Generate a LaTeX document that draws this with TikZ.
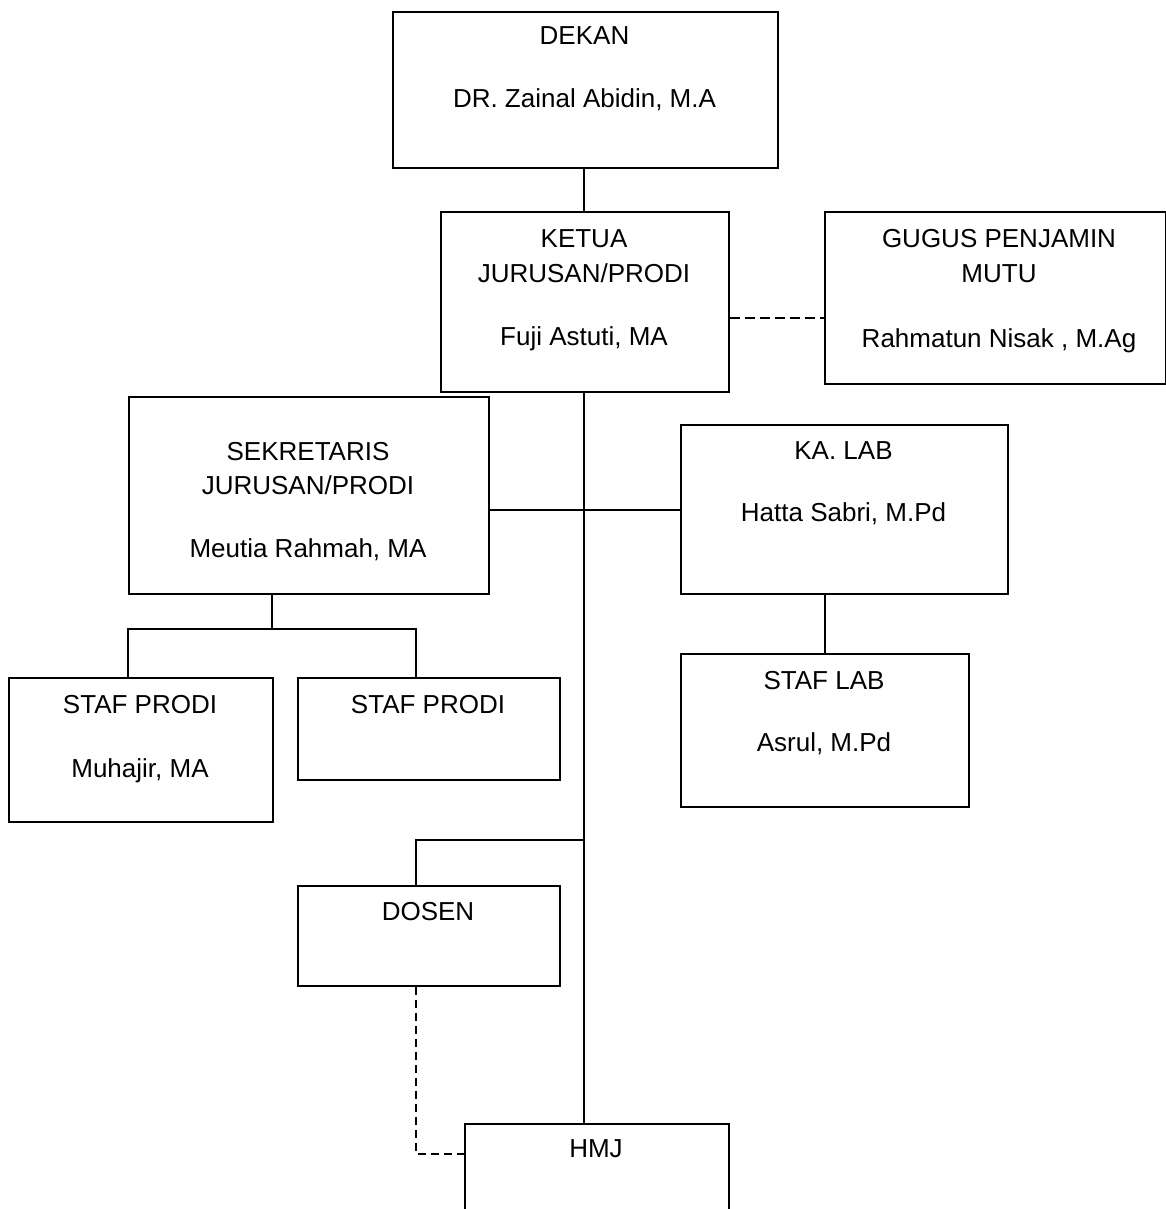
\documentclass[tikz,border=0pt]{standalone}
\usepackage{fontspec}
\setmainfont{Liberation Sans}
\begin{document}
\begin{tikzpicture}[x=1pt,y=-1pt,
  box/.style={draw,line width=1.8pt,rectangle,inner sep=0pt,anchor=north west},
  txt/.style={anchor=base,inner sep=0pt,font=\fontsize{26pt}{31pt}\selectfont},
  conn/.style={line width=1.8pt},
  dsh/.style={line width=1.8pt,dash pattern=on 10pt off 5pt}]
\clip (0,0) rectangle (1166,1209);
\fill[white] (0,0) rectangle (1166,1209);
% boxes
\node[box,minimum width=385pt,minimum height=156pt] (dekan) at (392,11) {};
\node[box,minimum width=288pt,minimum height=180pt] (ketua) at (440,211) {};
\node[box,minimum width=341pt,minimum height=172pt] (gugus) at (824,211) {};
\node[box,minimum width=360pt,minimum height=197pt] (sek) at (128,396) {};
\node[box,minimum width=327pt,minimum height=169pt] (kalab) at (680,424) {};
\node[box,minimum width=288pt,minimum height=153pt] (staflab) at (680,653) {};
\node[box,minimum width=264pt,minimum height=144pt] (staf1) at (8,677) {};
\node[box,minimum width=262pt,minimum height=102pt] (staf2) at (297,677) {};
\node[box,minimum width=262pt,minimum height=100pt] (dosen) at (297,885) {};
\node[box,minimum width=264pt,minimum height=140pt] (hmj) at (464,1123) {};
% texts
\node[txt] (tdek1) at (584.5,45) {DEKAN};
\node[txt] (tdek2) at (584.5,108) {DR. Zainal Abidin, M.A};
\node[txt] (tket1) at (584,247) {KETUA};
\node[txt] (tket2) at (584,282) {JURUSAN/PRODI};
\node[txt] (tket3) at (584,345) {Fuji Astuti, MA};
\node[txt] (tgug1) at (999,247) {GUGUS PENJAMIN};
\node[txt] (tgug2) at (999,282) {MUTU};
\node[txt] (tgug3) at (999,347) {Rahmatun Nisak , M.Ag};
\node[txt] (tsek1) at (308,460) {SEKRETARIS};
\node[txt] (tsek2) at (308,494) {JURUSAN/PRODI};
\node[txt] (tsek3) at (308,557) {Meutia Rahmah, MA};
\node[txt] (tlab1) at (843.5,459) {KA. LAB};
\node[txt] (tlab2) at (843.5,521) {Hatta Sabri, M.Pd};
\node[txt] (tsl1) at (824,689) {STAF LAB};
\node[txt] (tsl2) at (824,751) {Asrul, M.Pd};
\node[txt] (tsp1) at (140,713) {STAF PRODI};
\node[txt] (tsp2) at (140,777) {Muhajir, MA};
\node[txt] (tsp3) at (428,713) {STAF PRODI};
\node[txt] (tdos) at (428,920) {DOSEN};
\node[txt] (thmj) at (596,1157) {HMJ};
% helper coordinates
\coordinate (gy) at (0,318);
\coordinate (sj) at (272,629);
\coordinate (l1) at (128,629);
\coordinate (l2) at (416,629);
\coordinate (d1) at (416,840);
\coordinate (d2) at (416,1154);
\coordinate (hy) at (0,510);
\coordinate (vx) at (584,0);
% connectors
\draw[conn] (dekan.south -| vx) -- (ketua.north -| vx);
\draw[dsh] (ketua.east |- gy) -- (gugus.west |- gy);
\draw[conn] (ketua.south -| vx) -- (hmj.north -| vx);
\draw[conn] (sek.east |- hy) -- (kalab.west |- hy);
\draw[conn] (staflab.north |- kalab.south) -- (staflab.north);
\draw[conn] (sek.south -| sj) -- (sj);
\draw[conn] (staf1.north -| l1) -- (l1) -- (l2) -- (staf2.north -| l2);
\draw[conn] (vx |- d1) -- (d1) -- (dosen.north -| d1);
\draw[dsh,dash pattern=on 8pt off 5pt] (dosen.south -| d2) -- (d2) -- (hmj.west |- d2);
\end{tikzpicture}
\end{document}
